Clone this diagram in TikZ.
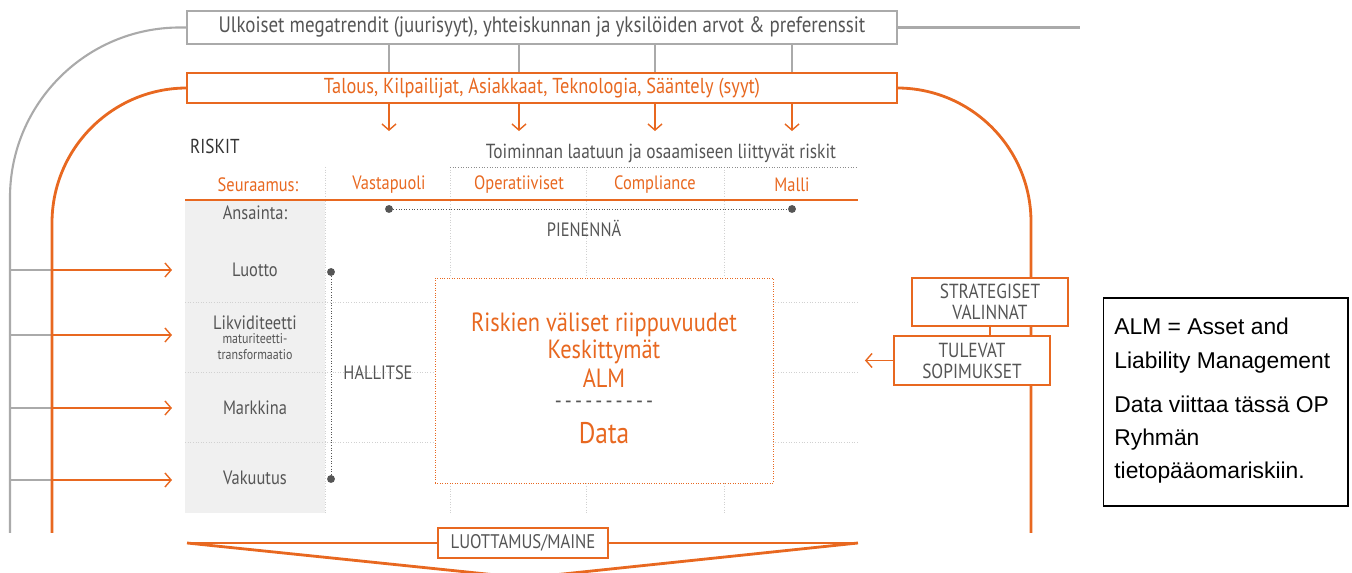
\documentclass[tikz,border=0pt]{standalone}
\usepackage{fontspec}
\setmainfont{Liberation Sans}
\newfontfamily\din[FakeStretch=0.85]{PT Sans}
\usetikzlibrary{arrows.meta}
\definecolor{opor}{RGB}{232,104,32}
\definecolor{txt}{RGB}{85,85,85}
\definecolor{lgr}{RGB}{170,170,170}
\tikzset{
  din/.style={font=\din\fontsize{11}{12}\selectfont, text=txt},
  hdr/.style={din, text=opor},
  obox/.style={draw=opor, line width=1.2pt, fill=white, inner sep=0pt},
  gline/.style={draw=lgr, line width=1.2pt},
  oline/.style={draw=opor, line width=1.6pt},
  grd/.style={draw=black!18, densely dotted, line width=0.5pt},
  tip/.style={-{Straight Barb[length=3.5pt,width=8pt]}, draw=opor, line width=0.8pt},
  dot/.style={circle, fill=txt, inner sep=0pt, minimum size=4.5pt}
}
\def\mid#1{\fontsize{#1}{#1}\selectfont}
\def\dsh{-\hspace{1.8pt}}
\begin{document}
\begin{tikzpicture}[x=0.02cm,y=-0.02cm]
\useasboundingbox (0,0) rectangle (1352,573);
\fill[black!6] (185,200) rectangle (325,513);
\foreach \y in {302,372,442} \draw[grd] (185,\y) -- (858,\y);
\foreach \x in {325,450,586,724} \draw[grd] (\x,167) -- (\x,513);
\draw[grd, draw=black!45] (450,167) -- (858,167);
\draw[draw=opor, line width=1pt] (185,200) -- (858,200);

\node[draw=lgr, line width=1.2pt, fill=white, minimum width=14.2cm, minimum height=0.62cm, din, font=\din\mid{12.7}] (trend) at (542,27.5)
  {Ulkoiset megatrendit (juurisyyt), yhteiskunnan ja yksilöiden arvot \& preferenssit};
\node[obox, minimum width=14.2cm, minimum height=0.6cm, hdr, font=\din\mid{12.3}] (syyt) at (542,88)
  {Talous, Kilpailijat, Asiakkaat, Teknologia, Sääntely (syyt)};
\coordinate (gr) at (1080,27.5);
\draw[gline] (trend.east) -- (gr);
\draw[gline, rounded corners=3.4cm] (trend.west) -- (10,27.5) -- (10,533);

\node[din, text=black!80, anchor=west, font=\din\mid{11.5}] (riskit) at (184,146) {RISKIT};
\node[din, font=\din\mid{11.6}] (toim) at (661,153) {Toiminnan laatuun ja osaamiseen liittyvät riskit};
\node[hdr] (seur) at (258,185) {Seuraamus:};
\node[hdr] (vasta) at (389,185) {Vastapuoli};
\node[hdr] (oper) at (519,185) {Operatiiviset};
\node[hdr] (comp) at (655,185) {Compliance};
\node[hdr] (malli) at (792,185) {Malli};
\foreach \c in {vasta,oper,comp,malli}{
  \draw[gline, line width=0.8pt] (trend.south -| \c) -- (syyt.north -| \c);
  \draw[tip] (syyt.south -| \c) -- ++(0,27);
}

\node[din] (ans) at (255,213) {Ansainta:};
\node[din] (luotto) at (255,270) {Luotto};
\node[din] (likv) at (255,323) {Likviditeetti};
\node[din, font=\din\fontsize{8}{9}\selectfont, align=center] (matu) at (255,347) {maturiteetti-\\transformaatio};
\node[din] (mark) at (255,408) {Markkina};
\node[din] (vak) at (255,478) {Vakuutus};

\node[dot] (p1) at (389,209) {};
\node[dot] (p2) at (792,209) {};
\draw[grd, draw=txt] (p1) -- (p2);
\node[din] (pien) at (584,228) {PIENENNÄ};
\node[dot] (h1) at (331,272) {};
\node[dot] (h2) at (331,479) {};
\draw[grd, draw=txt] (h1) -- (h2);
\node[din] (hall) at (378,373) {HALLITSE};

\node[draw=opor, densely dotted, fill=white, minimum width=6.76cm, minimum height=4.1cm] (keski) at (604,380.5) {};
\node[hdr, font=\din\mid{15}, inner sep=0pt] (r1) at (604,325) {Riskien väliset riippuvuudet};
\node[hdr, font=\din\mid{15}, inner sep=0pt] (r2) at (604,352) {Keskittymät};
\node[hdr, font=\din\mid{15}, inner sep=0pt] (r3) at (604,378) {ALM};
\node[din, font=\din\mid{13}, inner sep=0pt] (r4) at (604,405) {\dsh\dsh\dsh\dsh\dsh\dsh\dsh\dsh\dsh-};
\node[hdr, font=\din\mid{17}, inner sep=0pt] (r5) at (604,433) {Data};

\foreach \y [count=\i] in {270,335,408,480}{
  \coordinate (g\i) at (10,\y);
  \coordinate (o\i) at (52,\y);
  \coordinate (e\i) at (172,\y);
  \draw[gline, line width=0.8pt] (g\i) -- (o\i);
  \draw[tip] (o\i) -- (e\i);
}
\draw[oline, rounded corners=2.7cm] (syyt.west) -- (52,88) -- (52,533);
\draw[oline, rounded corners=2.68cm] (syyt.east) -- (1031,88) -- (1031,533);

\node[obox, din, align=center, font=\din\fontsize{11.6}{12}\selectfont, minimum width=3.12cm, minimum height=0.96cm] (strat) at (990,302) {STRATEGISET\\VALINNAT};
\node[obox, din, align=center, font=\din\fontsize{11.6}{12}\selectfont, minimum width=3.12cm, minimum height=0.98cm] (tule) at (972,360.5) {TULEVAT\\SOPIMUKSET};
\draw[draw=opor, line width=1pt] (strat.south) -- (tule.north -| strat.south);
\draw[tip] (tule.west) -- ++(-28,0);

\coordinate (bl) at (187,543);
\coordinate (br) at (858,543);
\coordinate (bv) at (525,578);
\draw[oline] (bl) -- (br);
\draw[oline] (bl) -- (bv) -- (br);
\node[obox, din, font=\din\mid{11.2}, minimum width=3.4cm, minimum height=0.6cm] (luot) at (523,543) {LUOTTAMUS/MAINE};

\node[draw=black, line width=0.6pt, minimum width=4.9cm, minimum height=4.16cm] (note) at (1225.5,402) {};
\node[anchor=west, align=left, font=\fontsize{13}{19}\selectfont, inner sep=0pt] (notetxt) at (1114,401)
  {ALM = Asset and\\Liability Management\\[6pt]Data viittaa tässä OP\\Ryhmän\\tietopääomariskiin.};
\end{tikzpicture}
\end{document}
